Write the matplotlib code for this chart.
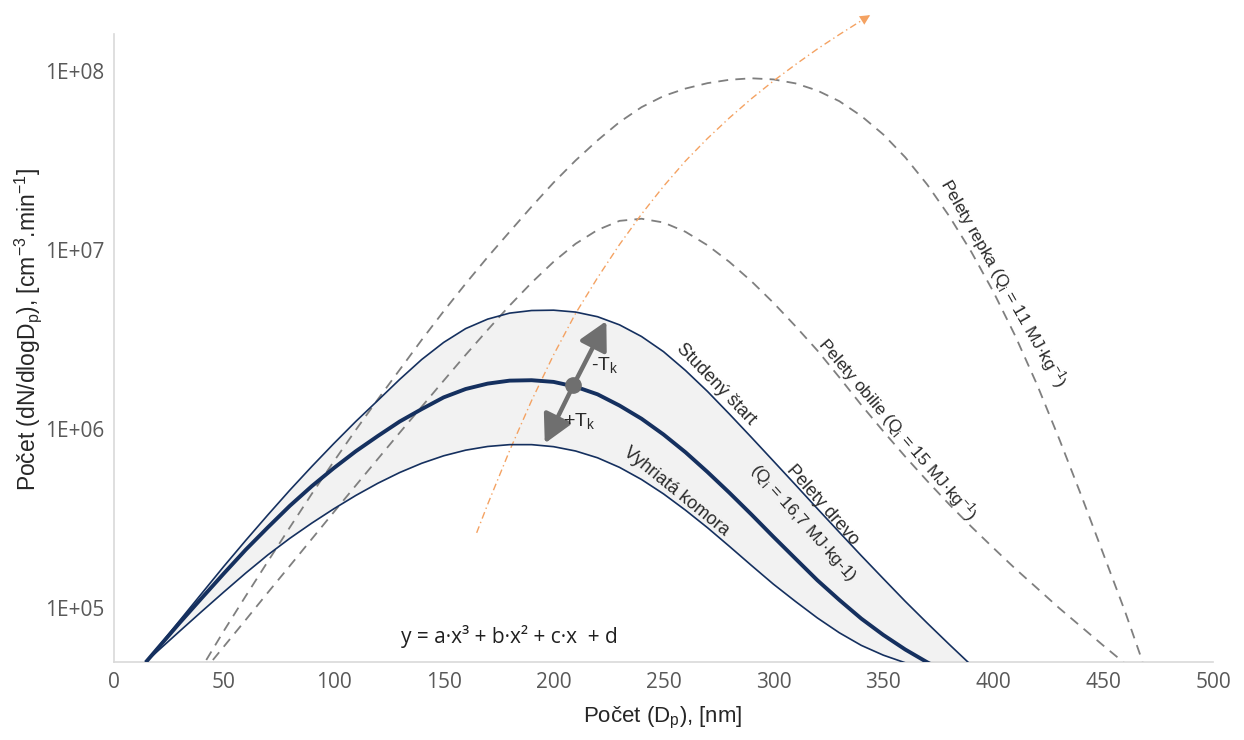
import matplotlib
matplotlib.use('Agg')
import matplotlib.pyplot as plt

# --------------------------------------------------------------
# Data (x = Dp in nm, y = dN/dlogDp)
# --------------------------------------------------------------
dp = [15, 20, 30, 40, 50, 60, 70, 80, 90, 100, 110, 120, 130, 140, 150, 160, 170,
      180, 190, 200, 210, 220, 230, 240, 250, 260, 270, 280, 290, 300, 310, 320,
      330, 340, 350, 360, 370, 380, 390]

# Pelety drevo - studeny start (upper edge of band)
studeny_start = [5.07e4, 6.04e4, 8.55e4, 1.21e5, 1.71e5, 2.39e5, 3.31e5, 4.55e5,
                 6.17e5, 8.28e5, 1.10e6, 1.44e6, 1.89e6, 2.44e6, 3.04e6, 3.63e6,
                 4.10e6, 4.43e6, 4.58e6, 4.60e6, 4.49e6, 4.23e6, 3.81e6, 3.28e6,
                 2.70e6, 2.12e6, 1.62e6, 1.21e6, 8.97e5, 6.62e5, 4.88e5, 3.59e5,
                 2.65e5, 1.96e5, 1.46e5, 1.09e5, 8.24e4, 6.27e4, 4.80e4]
# Pelety drevo - mean curve
pelety_drevo = [5.07e4, 5.98e4, 8.30e4, 1.14e5, 1.56e5, 2.12e5, 2.82e5, 3.72e5,
                4.79e5, 6.04e5, 7.50e5, 9.12e5, 1.10e6, 1.29e6, 1.50e6, 1.67e6,
                1.79e6, 1.86e6, 1.87e6, 1.83e6, 1.72e6, 1.56e6, 1.35e6, 1.14e6,
                9.31e5, 7.41e5, 5.75e5, 4.40e5, 3.33e5, 2.50e5, 1.89e5, 1.43e5,
                1.11e5, 8.73e4, 7.08e4, 5.87e4, 4.98e4, 4.30e4, 3.76e4]
# Pelety drevo - vyhriata komora (lower edge of band)
vyhriata_komora = [5.07e4, 5.77e4, 7.45e4, 9.59e4, 1.23e5, 1.57e5, 1.98e5, 2.45e5,
                   2.98e5, 3.58e5, 4.25e5, 4.97e5, 5.71e5, 6.43e5, 7.08e5, 7.61e5,
                   7.98e5, 8.17e5, 8.17e5, 7.96e5, 7.53e5, 6.90e5, 6.10e5, 5.22e5,
                   4.34e5, 3.52e5, 2.81e5, 2.21e5, 1.73e5, 1.36e5, 1.09e5, 8.81e4,
                   7.28e4, 6.19e4, 5.46e4, 4.95e4, 4.52e4, 4.17e4, 3.85e4]

obilie_dp = [45, 50, 60, 70, 80, 90, 100, 110, 120, 130, 140, 150, 160, 170, 180,
             190, 200, 210, 220, 230, 240, 250, 260, 270, 280, 290, 300, 310, 320,
             330, 340, 350, 360, 370, 380, 390, 400, 410, 420, 430, 440, 450, 460]
obilie = [5.13e4, 6.10e4, 8.61e4, 1.22e5, 1.72e5, 2.43e5, 3.43e5, 4.83e5, 6.79e5,
          9.53e5, 1.33e6, 1.86e6, 2.59e6, 3.57e6, 4.88e6, 6.55e6, 8.57e6, 1.08e7,
          1.29e7, 1.45e7, 1.49e7, 1.42e7, 1.26e7, 1.06e7, 8.55e6, 6.67e6, 5.06e6,
          3.75e6, 2.74e6, 1.94e6, 1.36e6, 9.70e5, 7.00e5, 5.12e5, 3.79e5, 2.85e5,
          2.17e5, 1.66e5, 1.29e5, 1.00e5, 7.87e4, 6.19e4, 4.90e4]

repka_dp = [42, 50, 60, 70, 80, 90, 100, 110, 120, 130, 140, 150, 160, 170, 180,
            190, 200, 210, 220, 230, 240, 250, 260, 270, 280, 290, 300, 310, 320,
            330, 340, 350, 360, 370, 380, 390, 400, 410, 420, 430, 440, 450, 460, 468]
repka = [5.13e4, 7.46e4, 1.17e5, 1.82e5, 2.82e5, 4.34e5, 6.58e5, 9.86e5, 1.46e6,
         2.14e6, 3.14e6, 4.54e6, 6.47e6, 9.10e6, 1.26e7, 1.74e7, 2.37e7, 3.15e7,
         4.08e7, 5.16e7, 6.25e7, 7.21e7, 7.94e7, 8.51e7, 8.89e7, 9.06e7, 8.93e7,
         8.49e7, 7.74e7, 6.75e7, 5.58e7, 4.40e7, 3.28e7, 2.31e7, 1.54e7, 9.75e6,
         5.85e6, 3.31e6, 1.76e6, 8.81e5, 4.27e5, 2.02e5, 9.55e4, 5.0e4]

trend_dp = [165, 170, 180, 190, 200, 210, 220, 230, 240, 250, 260, 270, 280, 290,
            300, 310, 320, 330, 340, 344]
trend = [2.63e5, 3.79e5, 7.57e5, 1.44e6, 2.59e6, 4.41e6, 6.98e6, 1.07e7, 1.58e7,
         2.26e7, 3.13e7, 4.18e7, 5.45e7, 6.97e7, 8.75e7, 1.08e8, 1.32e8, 1.59e8,
         1.90e8, 2.04e8]

# +/- Tk arrows: centre point and the two tips
tk_point = (209, 1.75e6)
tk_up = (224, 4.0e6)
tk_down = (196, 8.3e5)

y_ticks = [1e5, 1e6, 1e7, 1e8]
y_tick_labels = ['1E+05', '1E+06', '1E+07', '1E+08']
x_ticks = [0, 50, 100, 150, 200, 250, 300, 350, 400, 450, 500]

# --------------------------------------------------------------
# Plot
# --------------------------------------------------------------
NAVY = '#15305f'
GREY = '#7f7f7f'
ORANGE = '#f4a262'
TXT = '#2a2a2a'
LABEL_FONT = ['Liberation Sans', 'DejaVu Sans']

fig = plt.figure(figsize=(12.44, 7.4), dpi=100)
ax = fig.add_axes([0.0916, 0.1054, 0.8835, 0.8486])
ax.set_yscale('log')
ax.set_xlim(0, 500)
ax.set_ylim(5e4, 1.6e8)

ax.fill_between(dp, studeny_start, vyhriata_komora, color='#f2f2f2', lw=0, zorder=1)

ax.plot(obilie_dp, obilie, color=GREY, lw=1.3, dashes=(5.5, 4), zorder=2)
ax.plot(repka_dp, repka, color=GREY, lw=1.3, dashes=(5.5, 4), zorder=2)

ax.plot(dp, studeny_start, color=NAVY, lw=1.2, zorder=3)
ax.plot(dp, vyhriata_komora, color=NAVY, lw=1.2, zorder=3)
ax.plot(dp, pelety_drevo, color=NAVY, lw=2.8, zorder=3)

# orange trend line with a small arrow head, allowed to run past the top
ax.plot(trend_dp, trend, color=ORANGE, lw=1.0, dashes=(5, 2.5, 1, 2.5),
        zorder=2, clip_on=False)
ax.annotate('', xy=(trend_dp[-1], trend[-1]), xytext=(trend_dp[-2], trend[-2]),
            arrowprops=dict(arrowstyle='-|>,head_length=0.6,head_width=0.3',
                            color=ORANGE, lw=0, mutation_scale=12,
                            shrinkA=0, shrinkB=0),
            annotation_clip=False, zorder=2)

# Tk arrows
for tip in (tk_up, tk_down):
    ax.annotate('', xy=tip, xytext=tk_point,
                arrowprops=dict(arrowstyle='-|>,head_length=0.85,head_width=0.45',
                                color='#6f6f6f', lw=3.2, mutation_scale=20,
                                shrinkA=0, shrinkB=0), zorder=4)
ax.plot(*tk_point, 'o', color='#6f6f6f', ms=11, zorder=5)
ax.text(223.4, 2.25e6, '-T$_\\mathregular{k}$', fontsize=14, color=TXT,
        family=LABEL_FONT, ha='center', va='center', zorder=5)
ax.text(211.8, 1.09e6, '+T$_\\mathregular{k}$', fontsize=14, color=TXT,
        family=LABEL_FONT, ha='center', va='center', zorder=5)

# curve labels
labels = [
    (273.9, 1.78e6, -46, 13, 'Studený štart'),
    (255.7, 4.5e5, -39, 13, 'Vyhriatá komora'),
    (322.3, 3.78e5, -48.7, 13, 'Pelety drevo'),
    (313.6, 2.99e5, -48.4, 12.5, '(Q$_\\mathregular{i}$ = 16,7 MJ·kg-1)'),
    (356.4, 9.96e5, -49.5, 12.5,
     'Pelety obilie (Q$_\\mathregular{i}$ = 15 MJ·kg$^\\mathregular{-1}$)'),
    (404.6, 6.5e6, -60.4, 12.5,
     'Pelety repka (Q$_\\mathregular{i}$ = 11 MJ·kg$^\\mathregular{-1}$)'),
]
for x, y, rot, size, s in labels:
    ax.text(x, y, s, rotation=rot, rotation_mode='anchor', ha='center', va='center',
            fontsize=size, color=TXT, family=LABEL_FONT, zorder=5)

ax.text(180, 6.9e4, 'y = a·x³ + b·x² + c·x  + d', ha='center', va='center',
        fontsize=15, color='#202020', family=['Open Sans', 'DejaVu Sans'], zorder=5)

# axes styling
for side in ('top', 'right'):
    ax.spines[side].set_visible(False)
for side in ('left', 'bottom'):
    ax.spines[side].set_color('#d9d9d9')
    ax.spines[side].set_linewidth(1.2)

ax.set_xticks(x_ticks)
ax.set_yticks(y_ticks)
ax.set_yticklabels(y_tick_labels)
ax.minorticks_off()
ax.tick_params(length=0, labelsize=15, labelcolor='#595959', pad=7)
for lab in ax.get_xticklabels() + ax.get_yticklabels():
    lab.set_family(['Open Sans', 'DejaVu Sans'])

fig.text(0.533, 0.030, 'Počet (D$_\\mathregular{p}$), [nm]', ha='center', va='center',
         fontsize=16, color='#262626', family=LABEL_FONT)
fig.text(0.0225, 0.555,
         'Počet (dN/dlogD$_\\mathregular{p}$), [cm$^\\mathregular{-3}$.min$^\\mathregular{-1}$]',
         ha='center', va='center', rotation=90, fontsize=16.5, color='#262626',
         family=LABEL_FONT)

fig.savefig('out.png', dpi=100)
